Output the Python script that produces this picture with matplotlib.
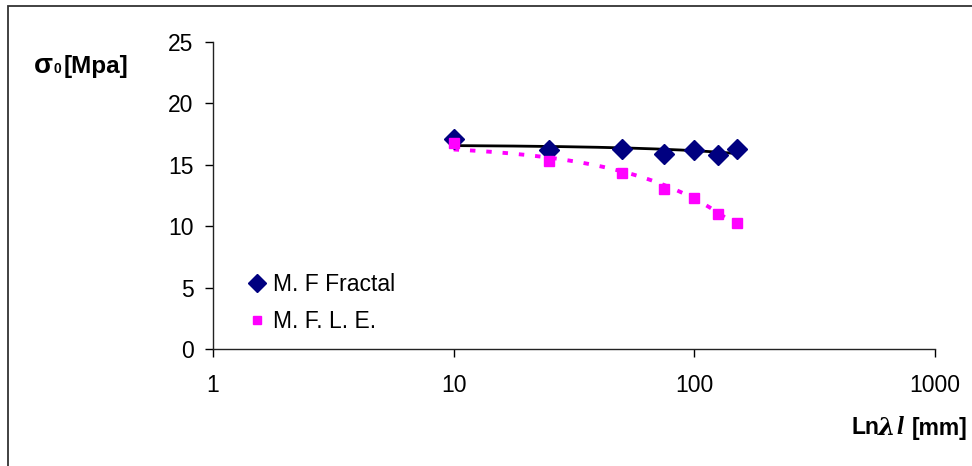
import numpy as np
import matplotlib.pyplot as plt
from matplotlib.lines import Line2D
from matplotlib.patches import Rectangle

# data
length = [10, 25, 50, 75, 100, 125, 150]
fractal = [17.1, 16.2, 16.3, 15.9, 16.2, 15.8, 16.3]
mfle = [16.8, 15.3, 14.3, 13.0, 12.3, 11.0, 10.3]
x_ticks = [1, 10, 100, 1000]
x_tick_labels = ['1', '10', '100', '1000']
y_ticks = [0, 5, 10, 15, 20, 25]

plt.rcParams['font.family'] = ['Liberation Sans', 'DejaVu Sans']

W, H = 972, 466
fig = plt.figure(figsize=(W / 100, H / 100), dpi=100)
ax = fig.add_axes([213 / W, 1 - 349 / H, (935 - 213) / W, (349 - 42) / H])

# linear trend lines (as a spreadsheet would draw them)
xs = np.linspace(length[0], length[-1], 200)
p1 = np.polyfit(length, fractal, 1)
p2 = np.polyfit(length, mfle, 1)
ax.plot(xs, np.polyval(p1, xs), color='black', lw=2.0, zorder=2)
ax.plot(xs, np.polyval(p2, xs), color='#FF00FF', lw=2.8,
        linestyle=(0, (1.4, 2.8)), zorder=2)

ax.plot(length, fractal, 'D', color='#000080', ms=10, mec='#000080', zorder=3)
ax.plot(length, mfle, 's', color='#FF00FF', ms=7, mec='#FF00FF', zorder=3)

ax.set_xscale('log')
ax.set_xlim(1, 1000)
ax.set_ylim(0, 25)
ax.set_xticks(x_ticks)
ax.set_xticklabels(x_tick_labels)
ax.xaxis.set_minor_locator(plt.NullLocator())
ax.set_yticks(y_ticks)
ax.tick_params(axis='both', direction='out', length=6, width=1, labelsize=16.5,
               colors='black')
ax.tick_params(axis='x', pad=12)
ax.tick_params(axis='y', pad=8)
for s in ['top', 'right']:
    ax.spines[s].set_visible(False)
for s in ['left', 'bottom']:
    ax.spines[s].set_linewidth(1)
    ax.spines[s].set_color('#222222')

handles = [Line2D([], [], marker='D', ls='none', color='#000080', ms=9),
           Line2D([], [], marker='s', ls='none', color='#FF00FF', ms=6)]
fig.legend(handles, ['M. F Fractal', 'M. F. L. E.'], loc='center left',
           bbox_to_anchor=(227 / W, 1 - 303 / H), frameon=False, fontsize=16.5,
           handlelength=0.8, handletextpad=0.3, labelspacing=0.6)

# axis titles
fig.text(34 / W, 1 - 66 / H, 'σ', fontsize=20, fontweight='bold', va='center')
fig.text(54 / W, 1 - 69 / H, '0', fontsize=10, fontweight='bold', va='center')
fig.text(64 / W, 1 - 66 / H, '[Mpa]', fontsize=17.5, fontweight='bold', va='center')

fig.text(851 / W, 1 - 428 / H, 'Ln', fontsize=16.5, fontweight='bold', va='center')
fig.text(878 / W, 1 - 428 / H, 'λ', fontsize=18, fontweight='bold',
         style='italic', va='center', family=['DejaVu Serif'])
fig.text(896 / W, 1 - 428 / H, 'l', fontsize=18, fontweight='bold',
         style='italic', va='center', family=['Liberation Serif'])
fig.text(912 / W, 1 - 428 / H, '[mm]', fontsize=16.5, fontweight='bold', va='center')

# outer chart border
fig.add_artist(Rectangle((8 / W, -0.1), 1.1, 1 - 6 / H + 0.1, transform=fig.transFigure,
                         fill=False, edgecolor='#333333', lw=1.3))

fig.savefig('out.png', dpi=100)
